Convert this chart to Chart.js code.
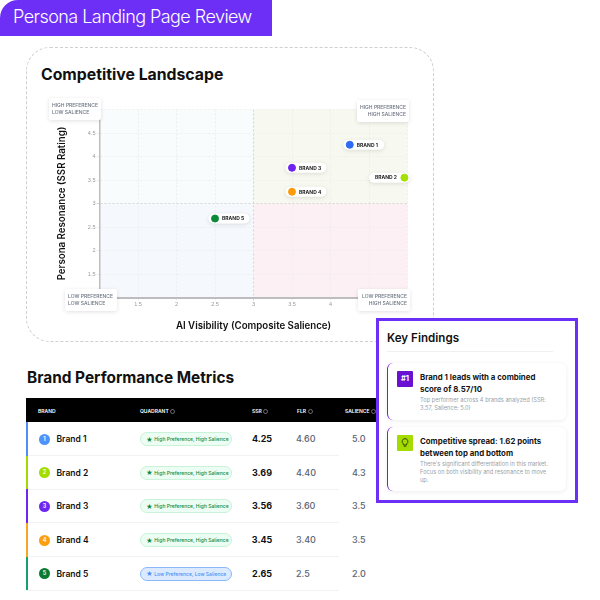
<!DOCTYPE html>
<html>
<head>
<meta charset="utf-8">
<script src="https://cdn.jsdelivr.net/npm/chart.js@4"></script>
<style>
html, body { margin: 0; padding: 0; background: #fff; }
body { width: 600px; height: 600px; position: relative; overflow: hidden; font-family: Inter, sans-serif; color: #111; }
.abs { position: absolute; white-space: nowrap; }
#banner { left: 0; top: 0; width: 272px; height: 36px; background: #6d2ff6; border-top-left-radius: 18px; }
#bannerText { left: 13px; top: 3px; font-size: 18px; letter-spacing: -0.55px; line-height: 28px; font-weight: 300; color: #fff; }
#card { left: 26px; top: 47px; width: 406px; height: 293px; border: 1px dashed #cfcfcf; border-radius: 24px; }
#cardTitle { left: 41px; top: 64px; font-size: 15.8px; line-height: 22px; font-weight: 700; }
#chartWrap { left: 26px; top: 47px; width: 408px; height: 295px; }
.quad { background: #fff; border-radius: 2px; box-shadow: 0 1px 4px rgba(0,0,0,.12); font-size: 5px; line-height: 7.2px; font-weight: 500; color: #6b7280; padding: 3.5px 3px; box-sizing: border-box; height: 22px; width: 52px; }
#tableTitle { left: 27px; top: 367px; font-size: 15.4px; line-height: 22px; font-weight: 700; }
#thead { left: 26px; top: 398px; width: 350px; height: 24px; background: #000; }
.th { color: #fff; font-size: 5px; font-weight: 600; line-height: 8px; }
.th svg { margin-left: 1.5px; vertical-align: -0.5px; }
.row { left: 26px; width: 313px; height: 34px; border-bottom: 1px solid #f2f2f2; box-sizing: border-box; }
.bar { left: 26px; width: 2px; }
.dot { width: 11px; height: 11px; border-radius: 50%; color: #fff; font-size: 5.5px; line-height: 11px; text-align: center; font-weight: 600; }
.name { font-size: 8.5px; line-height: 12px; font-weight: 600; }
.pill { width: 92px; height: 14px; border-radius: 7px; font-size: 5px; line-height: 12.5px; font-weight: 500; box-sizing: border-box; padding-left: 5px; }
.pill span { font-size: 6.5px; margin-right: 1.5px; vertical-align: -0.5px; }
.pill.hi { background: #ecfdf3; border: 1px solid #c9f2d8; color: #0b8a44; }
.pill.lo { background: #dbeafe; border: 1px solid #8ab8fb; color: #4b8ef5; }
.num { font-size: 9px; line-height: 12px; }
.ssr { font-weight: 700; color: #111; width: 30px; text-align: center; }
.grey { font-weight: 500; color: #5b6472; }
#panel { left: 376px; top: 318px; width: 202px; height: 185px; border: 3px solid #6d2ff6; box-sizing: border-box; background: #fff; }
#panelTitle { left: 387px; top: 330px; font-size: 11.6px; line-height: 16px; font-weight: 600; }
#panelRule { left: 387px; top: 351px; width: 166px; height: 1px; background: #f0f0f0; }
.find { left: 387px; width: 179px; background: #fff; border-left: 1.5px solid #7a1fe0; border-radius: 6px; box-shadow: 0 1px 4px rgba(0,0,0,.08); box-sizing: border-box; }
.badge { left: 397px; width: 16px; height: 15.5px; border-radius: 1px; text-align: center; color: #fff; font-size: 7.5px; line-height: 15.5px; font-weight: 700; }
.findHead { left: 420px; font-size: 7.85px; line-height: 11.5px; font-weight: 700; color: #151515; }
.findSub { left: 420px; font-size: 5.7px; line-height: 8px; color: #9a9fa8; }
</style>
</head>
<body>
<div class="abs" id="banner"></div>
<div class="abs" id="bannerText">Persona Landing Page Review</div>
<div class="abs" id="card"></div>
<div class="abs" id="cardTitle">Competitive Landscape</div>
<div class="abs" id="chartWrap"><canvas id="chart" width="408" height="295"></canvas></div>

<div class="abs quad" style="left:49px;top:98px;">HIGH PREFERENCE<br>LOW SALIENCE</div>
<div class="abs quad" style="left:357px;top:100px;text-align:right;">HIGH PREFERENCE<br>HIGH SALIENCE</div>
<div class="abs quad" style="left:65px;top:289px;">LOW PREFERENCE<br>LOW SALIENCE</div>
<div class="abs quad" style="left:358px;top:289px;text-align:right;">LOW PREFERENCE<br>HIGH SALIENCE</div>

<div class="abs" id="tableTitle">Brand Performance Metrics</div>
<div class="abs" id="thead"></div>
<div class="abs th" style="left:38px;top:407px;">BRAND</div>
<div class="abs th ih" style="left:140px;top:407px;">QUADRANT</div>
<div class="abs th ih" style="left:252px;top:407px;">SSR</div>
<div class="abs th ih" style="left:297px;top:407px;">FLR</div>
<div class="abs th ih" style="left:345px;top:407px;">SALIENCE</div>
<div id="rows"></div>

<div class="abs" id="panel"></div>
<div class="abs" id="panelTitle">Key Findings</div>
<div class="abs" id="panelRule"></div>
<div class="abs find" style="top:363px;height:57px;"></div>
<div class="abs badge" style="top:371px;background:#6a10d2;">#1</div>
<div class="abs findHead" style="top:372px;">Brand 1 leads with a combined<br>score of 8.57/10</div>
<div class="abs findSub" style="top:396px;">Top performer across 4 brands analyzed (SSR:<br>3.57, Salience: 5.0)</div>
<div class="abs find" style="top:427px;height:64px;"></div>
<div class="abs badge" style="top:435px;background:#a4dc00;"></div>
<svg class="abs" style="left:401px;top:438px;" width="8" height="10" viewBox="0 0 8 10"><path d="M4 .6a2.9 2.9 0 0 0-1.6 5.3V7h3.2V5.9A2.9 2.9 0 0 0 4 .6zM2.8 8.2h2.4" fill="none" stroke="#2c3a00" stroke-width=".9"/></svg>
<div class="abs findHead" style="top:436px;">Competitive spread: 1.62 points<br>between top and bottom</div>
<div class="abs findSub" style="top:460px;">There's significant differentiation in this market.<br>Focus on both visibility and resonance to move<br>up.</div>

<script>
const brands = ['Brand 1', 'Brand 2', 'Brand 3', 'Brand 4', 'Brand 5'];
const salienceX = [4.25, 4.96, 3.5, 3.5, 2.5];
const resonanceY = [4.25, 3.55, 3.76, 3.25, 2.68];
const pointColors = ['#2f6bf2', '#a3e000', '#6d22f2', '#fb9a0a', '#0b8a3a'];

const barColors = ['#4f8ff5', '#a3d900', '#6d28f0', '#f5a623', '#17a06f'];
const dotColors = ['#4f93fa', '#a3dc00', '#6d28f0', '#fb9f0e', '#0b7a33'];
const quadrants = ['High Preference, High Salience', 'High Preference, High Salience', 'High Preference, High Salience', 'High Preference, High Salience', 'Low Preference, Low Salience'];
const ssrValues = ['4.25', '3.69', '3.56', '3.45', '2.65'];
const flrValues = ['4.60', '4.40', '3.60', '3.40', '2.5'];
const salienceValues = ['5.0', '4.3', '3.5', '3.5', '2.0'];

// little info circle after the header labels
document.querySelectorAll('.ih').forEach(el => {
    el.innerHTML += '<svg width="5" height="5"><circle cx="2.5" cy="2.5" r="2" fill="none" stroke="#ccc" stroke-width=".5"/></svg>';
});

// table rows
const rowsEl = document.getElementById('rows');
let html = '';
brands.forEach((b, i) => {
    const top = 422 + i * 33.7;
    const lo = quadrants[i].startsWith('Low');
    html += '<div class="abs row" style="top:' + top + 'px"></div>';
    html += '<div class="abs bar" style="top:' + top + 'px;height:33.7px;background:' + barColors[i] + '"></div>';
    html += '<div class="abs dot" style="left:39px;top:' + (top + 11.5) + 'px;background:' + dotColors[i] + '">' + (i + 1) + '</div>';
    html += '<div class="abs name" style="left:56.5px;top:' + (top + 11) + 'px">' + b + '</div>';
    html += '<div class="abs pill ' + (lo ? 'lo' : 'hi') + '" style="left:140px;top:' + (top + 10) + 'px"><span>★</span>' + quadrants[i] + '</div>';
    html += '<div class="abs num ssr" style="left:247px;top:' + (top + 11) + 'px">' + ssrValues[i] + '</div>';
    html += '<div class="abs num grey" style="left:296px;top:' + (top + 11) + 'px">' + flrValues[i] + '</div>';
    html += '<div class="abs num grey" style="left:352px;top:' + (top + 11) + 'px">' + salienceValues[i] + '</div>';
});
rowsEl.innerHTML = html;

// soft coloured quadrants behind the grid
const quadrantFill = {
    id: 'quadrantFill',
    beforeDraw(chart) {
        const { ctx, chartArea: a, scales: { x, y } } = chart;
        const mx = x.getPixelForValue(3);
        const my = y.getPixelForValue(3);
        ctx.save();
        ctx.fillStyle = '#f8fcfd';
        ctx.fillRect(a.left, a.top, mx - a.left, my - a.top);
        ctx.fillStyle = '#f7f9f0';
        ctx.fillRect(mx, a.top, a.right - mx, my - a.top);
        ctx.fillStyle = '#f5f8fd';
        ctx.fillRect(a.left, my, mx - a.left, a.bottom - my);
        ctx.fillStyle = '#fdf0f4';
        ctx.fillRect(mx, my, a.right - mx, a.bottom - my);
        ctx.restore();
    }
};

// white pill with the brand name next to each point
const brandPills = {
    id: 'brandPills',
    beforeDatasetsDraw(chart) {
        const ctx = chart.ctx;
        chart.data.datasets.forEach((ds, i) => {
            const p = chart.getDatasetMeta(i).data[0];
            const flip = i === 1;
            const left = flip ? p.x - 35.5 : p.x - 6.5;
            ctx.save();
            ctx.shadowColor = 'rgba(0,0,0,.12)';
            ctx.shadowBlur = 4;
            ctx.shadowOffsetY = 1;
            ctx.fillStyle = '#fff';
            ctx.beginPath();
            ctx.roundRect(left, p.y - 5, 41, 10, 5);
            ctx.fill();
            ctx.restore();
            ctx.save();
            ctx.fillStyle = '#222';
            ctx.font = '700 5px Inter';
            ctx.textBaseline = 'middle';
            ctx.fillText(ds.label.toUpperCase(), flip ? p.x - 29.5 : p.x + 7, p.y + .3);
            ctx.restore();
        });
    }
};

const gridColor = c => c.tick.value === 3 ? '#d4d4d0' : '#eeeeee';
const hideEnds = v => (v === 1 || v === 5) ? '' : v;

new Chart(document.getElementById('chart'), {
    type: 'scatter',
    data: {
        datasets: brands.map((b, i) => ({
            label: b,
            data: [{ x: salienceX[i], y: resonanceY[i] }],
            backgroundColor: pointColors[i],
            borderColor: pointColors[i],
            pointRadius: 3.5,
            clip: false
        }))
    },
    options: {
        responsive: false,
        animation: false,
        layout: { padding: { top: 62.5, right: 26.5, bottom: 10, left: 30 } },
        plugins: { legend: { display: false }, tooltip: { enabled: false } },
        scales: {
            x: {
                min: 1, max: 5,
                afterFit: s => { s.height = 34.5; },
                border: { color: '#bdbdbd', width: 2, dash: [2, 2] },
                grid: { color: gridColor, tickLength: 3, tickBorderDash: [] },
                ticks: { stepSize: 0.5, callback: hideEnds, color: '#999', font: { size: 5.5 }, maxRotation: 0, padding: 1 },
                title: { display: true, text: 'AI Visibility (Composite Salience)', color: '#111', font: { family: 'Inter', size: 9.7, weight: '600' }, padding: { top: 10, bottom: 0 } }
            },
            y: {
                min: 1, max: 5,
                afterFit: s => { s.width = 43.5; },
                border: { color: '#bdbdbd', width: 1.5, dash: [2, 2] },
                grid: { color: gridColor, tickLength: 3, tickBorderDash: [] },
                ticks: { stepSize: 0.5, callback: hideEnds, color: '#999', font: { size: 5.5 }, padding: 1 },
                title: { display: true, text: 'Persona Resonance (SSR Rating)', color: '#111', font: { family: 'Inter', size: 9.7, weight: '600' }, padding: { top: 0, bottom: 0 } }
            }
        }
    },
    plugins: [quadrantFill, brandPills]
});
</script>
</body>
</html>
